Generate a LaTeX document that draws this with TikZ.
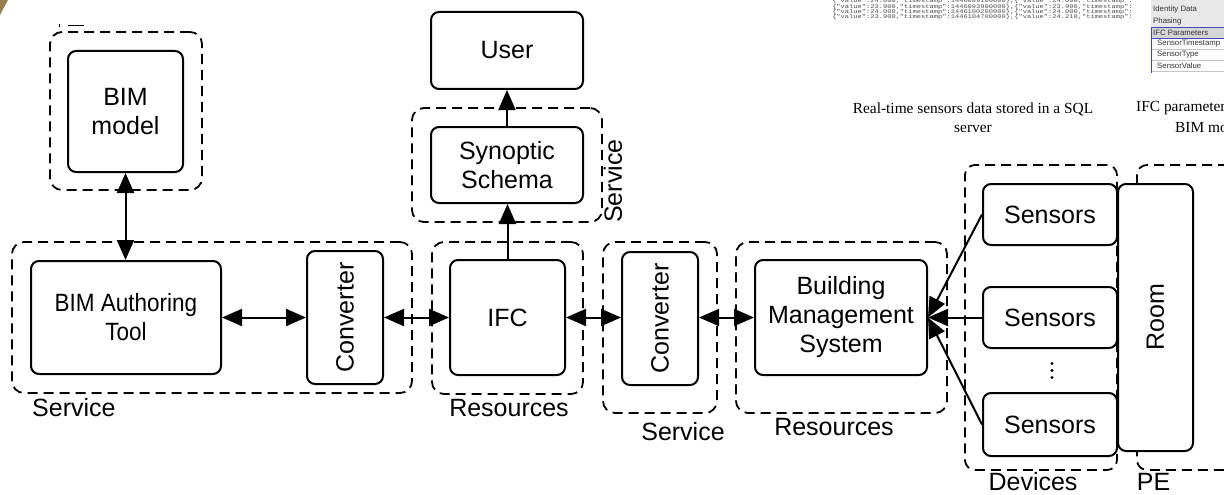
\documentclass[tikz,border=0pt]{standalone}
\usepackage{fontspec}
\setmainfont{Liberation Sans}
\newfontfamily\capserif{Liberation Serif}
\newfontfamily\capmono{Liberation Mono}
\usetikzlibrary{arrows.meta}
\definecolor{artgold}{RGB}{150,128,80}
\tikzset{
  box/.style={draw, line width=2pt, rounded corners=8pt, fill=white, align=center, inner sep=0pt, font=\fontsize{25}{29}\selectfont},
  grp/.style={draw, line width=1.8pt, dash pattern=on 10pt off 6pt, rounded corners=12pt, inner sep=0pt},
  lbl/.style={font=\fontsize{25}{29}\selectfont, inner sep=0pt},
  arr/.style={line width=2pt, -{Triangle[length=20pt,width=17pt]}},
  darr/.style={line width=2pt, {Triangle[length=20pt,width=17pt]}-{Triangle[length=20pt,width=17pt]}},
  jsn/.style={font=\capmono\fontsize{5.6}{6}\selectfont, text=black!70, anchor=west, inner sep=0pt, xscale=1.26},
  tbl/.style={font=\fontsize{7.8}{9}\selectfont, text=black!80, anchor=west, inner sep=0pt},
  captxt/.style={font=\capserif\fontsize{15.4}{19}\selectfont, inner sep=0pt},
  dotmark/.style={fill=black},
}
\begin{document}
\begin{tikzpicture}[x=1pt,y=-1pt]
\useasboundingbox (0,0) rectangle (1224,495);
\begin{scope}
\clip (0,0) rectangle (1224,495);
% corner artifact
\fill[artgold] (0,0) -- (8,0) -- (0,15) -- cycle;
\draw[line width=0.8pt] (68,25) -- (84,25) (59,24) -- (59,27);
% JSON lines
\node[jsn] (j0) at (832,1) {\{"value":24.000,"timestamp":1446089100000\},\{"value":24.000,"timestamp":};
\node[jsn] (j1) at (832,6.7) {\{"value":23.900,"timestamp":1446093900000\},\{"value":23.900,"timestamp":};
\node[jsn] (j2) at (832,12) {\{"value":24.000,"timestamp":1446100200000\},\{"value":24.000,"timestamp":};
\node[jsn] (j3) at (832,17.3) {\{"value":23.900,"timestamp":1446104700000\},\{"value":24.210,"timestamp":};
% property table
\fill[gray!18] (1151,-5) rectangle (1230,27);
\fill[gray!32] (1151,27) rectangle (1230,38);
\draw[gray!45, line width=0.5pt] (1151,49) -- (1230,49) (1151,60) -- (1230,60) (1151,71) -- (1230,71);
\draw[blue!45!gray, line width=0.9pt] (1230,27) -- (1151,27) -- (1151,73) (1151,38) -- (1230,38);
\node[tbl] (t0) at (1153,-2) {Dimensions};
\node[tbl] (t1) at (1153,9.5) {Identity Data};
\node[tbl] (t2) at (1153,21) {Phasing};
\node[tbl] (t3) at (1153,32.5) {IFC Parameters};
\node[tbl] (t4) at (1157,43.5) {SensorTimestamp};
\node[tbl] (t5) at (1157,54.5) {SensorType};
\node[tbl] (t6) at (1157,65.5) {SensorValue};
% captions
\node[captxt, align=center] (c1) at (973,117.5) {Real-time sensors data stored in a SQL\\server};
\node[captxt, anchor=west] (c2) at (1136,108) {IFC parameters in the};
\node[captxt, anchor=west] (c3) at (1175,127) {BIM model};
% PE group
\draw[line width=1.8pt, dash pattern=on 10pt off 6pt, rounded corners=10pt] (1260,165) -- (1137,165) -- (1137,470) -- (1260,470);
\end{scope}

% dashed groups
\node[grp, minimum width=152pt, minimum height=158pt] (gbim) at (126,111) {};
\node[grp, minimum width=400pt, minimum height=151pt] (gsv1) at (212,317.5) {};
\node[grp, minimum width=151pt, minimum height=152pt] (gres1) at (507.5,318) {};
\node[grp, minimum width=190pt, minimum height=114pt] (gsv2) at (507,165) {};
\node[grp, minimum width=114pt, minimum height=171pt] (gsv3) at (660,327.5) {};
\node[grp, minimum width=211pt, minimum height=171pt] (gres2) at (841.5,327.5) {};
\node[grp, rounded corners=10pt, minimum width=152pt, minimum height=305pt] (gdev) at (1041,317.5) {};

% boxes
\node[box, minimum width=115pt, minimum height=121pt] (bimm) at (125.5,111.5) {BIM\\model};
\node[box, minimum width=190pt, minimum height=113pt] (auth) at (126,317.5) {\scalebox{0.9}[1]{BIM Authoring}\\\scalebox{0.9}[1]{Tool}};
\node[box, minimum width=76pt, minimum height=133pt] (conv1) at (345,317.5) {\rotatebox{90}{Converter}};
\node[box, minimum width=115pt, minimum height=115pt] (ifc) at (507.5,317.5) {IFC};
\node[box, minimum width=152pt, minimum height=77pt] (user) at (507,50.5) {User};
\node[box, minimum width=152pt, minimum height=76pt] (syn) at (507,165) {Synoptic\\Schema};
\node[box, minimum width=76pt, minimum height=133pt] (conv2) at (660,318.5) {\rotatebox{90}{Converter}};
\node[box, minimum width=172pt, minimum height=115pt] (bms) at (841,317.5) {Building\\Management\\System};
\node[box, minimum width=134pt, minimum height=61pt] (s1) at (1050,214.5) {Sensors};
\node[box, minimum width=134pt, minimum height=61pt] (s2) at (1050,317.5) {Sensors};
\node[box, minimum width=134pt, minimum height=63pt] (s3) at (1050,424.5) {Sensors};
\node[box, minimum width=75pt, minimum height=267pt] (room) at (1155.5,317.5) {\rotatebox{90}{Room}};
% vertical ellipsis between sensors
\fill[dotmark] (1052,363.5) circle (1.6pt) (1052,370.5) circle (1.6pt) (1052,377.5) circle (1.6pt);

% labels
\node[lbl, anchor=west] (l1) at (32,408) {Service};
\node[lbl] (l2) at (509,408) {Resources};
\node[lbl, rotate=90] (l3) at (613,181) {Service};
\node[lbl] (l4) at (683,432) {Service};
\node[lbl] (l5) at (834,427) {Resources};
\node[lbl] (l6) at (1033,482) {Devices};
\node[lbl] (l7) at (1153.5,482) {PE};

% connectors
\draw[darr] (bimm.south) -- (bimm.south |- auth.north);
\draw[darr] (auth.east) -- (conv1.west);
\draw[darr] (conv1.east) -- (ifc.west);
\draw[darr] (ifc.east) -- (ifc.east -| conv2.west);
\draw[darr] (conv2.east |- bms.west) -- (bms.west);
\draw[arr] (ifc.north) -- (ifc.north |- syn.south);
\draw[arr] (syn.north) -- (user.south);
\draw[arr] (s1.west) -- (bms.east);
\draw[arr] (s2.west) -- (bms.east);
\draw[arr] (s3.west) -- (bms.east);
\end{tikzpicture}
\end{document}
